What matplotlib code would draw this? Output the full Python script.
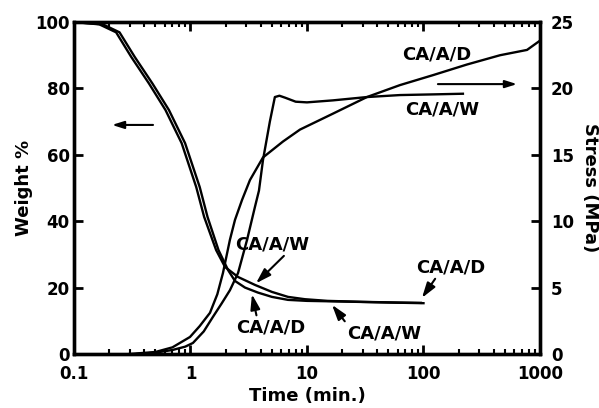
import numpy as np
import matplotlib
matplotlib.use("Agg")
import matplotlib.pyplot as plt

plt.rcParams["font.family"] = ["DejaVu Sans"]
plt.rcParams["font.weight"] = "bold"

# weight loss curves (Weight %, left axis)
t_wt_w = [0.1, 0.165, 0.23, 0.31, 0.44, 0.61, 0.84, 1.12, 1.31, 1.66, 1.98,
          2.56, 3.58, 5.0, 6.87, 9.6, 15, 30, 60, 95]
wt_w = [100, 99.3, 96.9, 89.5, 81.5, 73.5, 63.5, 50.3, 41.3, 31.3, 26.2,
        23.2, 20.8, 18.7, 17.2, 16.5, 16.0, 15.7, 15.5, 15.4]

t_wt_d = [0.1, 0.177, 0.246, 0.332, 0.471, 0.653, 0.899, 1.2, 1.4, 1.74, 2.1,
          2.41, 2.94, 3.79, 5.0, 6.87, 10, 20, 50, 100]
wt_d = [100, 99.3, 96.9, 89.5, 81.5, 73.5, 63.5, 50.3, 41.3, 31.3, 25.3,
        22.0, 20.0, 18.5, 17.2, 16.3, 16.0, 15.8, 15.5, 15.3]

# stress build-up curves (MPa, right axis)
t_st_w = [0.35, 0.5, 0.7, 0.9, 1.05, 1.3, 1.56, 1.85, 2.18, 2.56, 3.06, 3.58,
          3.87, 4.19, 4.8, 5.3, 5.8, 6.5, 8.0, 10, 16.7, 32.7, 62.8, 120, 218]
st_w = [0.0, 0.1, 0.3, 0.55, 0.83, 1.7, 2.8, 3.8, 4.8, 6.1, 8.6, 11.1,
        12.3, 14.6, 17.5, 19.35, 19.45, 19.3, 19.0, 18.95, 19.1, 19.35, 19.5,
        19.55, 19.6]

t_st_d = [0.3, 0.5, 0.7, 0.99, 1.2, 1.47, 1.7, 1.9, 2.18, 2.41, 2.77, 3.24,
          4.19, 6.22, 8.71, 16.7, 32.7, 62.8, 120.6, 236, 454, 774, 1000]
st_d = [0.0, 0.15, 0.5, 1.28, 2.1, 3.1, 4.5, 6.1, 8.6, 10.1, 11.6, 13.1,
        14.8, 16.0, 16.9, 18.1, 19.35, 20.25, 21.0, 21.8, 22.5, 22.9, 23.6]

x_ticks = [0.1, 1, 10, 100, 1000]
x_labels = ["0.1", "1", "10", "100", "1000"]
wt_ticks = [0, 20, 40, 60, 80, 100]
st_ticks = [0, 5, 10, 15, 20, 25]

fig = plt.figure(figsize=(5.99, 4.08), dpi=100)
ax = fig.add_axes([0.1235, 0.1324, 0.778, 0.8136])
ax2 = ax.twinx()

lw = 1.7
ax.plot(t_wt_w, wt_w, color="black", lw=lw)
ax.plot(t_wt_d, wt_d, color="black", lw=lw)
ax2.plot(t_st_w, st_w, color="black", lw=lw)
ax2.plot(t_st_d, st_d, color="black", lw=lw)

ax.set_xscale("log")
ax.set_xlim(0.1, 1000)
ax.set_ylim(0, 100)
ax2.set_ylim(0, 25)
ax.set_xticks(x_ticks)
ax.set_xticklabels(x_labels)
ax.set_yticks(wt_ticks)
ax2.set_yticks(st_ticks)

for a in (ax, ax2):
    for sp in a.spines.values():
        sp.set_linewidth(2.4)

ax.tick_params(axis="x", which="both", direction="in", top=True,
               labelsize=12, pad=8)
ax.tick_params(axis="x", which="major", length=6.5, width=2)
ax.tick_params(axis="x", which="minor", length=3.5, width=1.5)
ax.tick_params(axis="y", direction="in", length=6.5, width=2,
               labelsize=12, pad=3, right=False)
ax2.tick_params(axis="y", direction="in", length=6.5, width=2,
                labelsize=12, pad=8)

ax.set_xlabel("Time (min.)", fontsize=13, fontweight="bold", labelpad=3)
ax.set_ylabel("Weight %", fontsize=13, fontweight="bold", labelpad=2)
ax2.set_ylabel("Stress (MPa)", fontsize=13, fontweight="bold",
               rotation=270, labelpad=18)

arrow = dict(arrowstyle="-|>,head_length=0.7,head_width=0.22",
             color="black", lw=1.5, shrinkA=0, shrinkB=0)
fs = 13

# axis pointers
ax.annotate("", xy=(0.212, 69), xytext=(0.477, 69), arrowprops=arrow)
ax.annotate("", xy=(635, 81.3), xytext=(133, 81.3), arrowprops=arrow)

# curve labels
ax.text(130, 90.1, "CA/A/D", fontsize=fs, fontweight="bold",
        ha="center", va="center")
ax.text(144, 73.5, "CA/A/W", fontsize=fs, fontweight="bold",
        ha="center", va="center")
ax.annotate("CA/A/W", xy=(3.65, 21.3), xytext=(5.0, 33.1),
            fontsize=fs, fontweight="bold", ha="center", va="center",
            arrowprops=dict(arrow, relpos=(0.7, 0.0)))
ax.annotate("CA/A/D", xy=(3.37, 18.0), xytext=(4.9, 8.1),
            fontsize=fs, fontweight="bold", ha="center", va="center",
            arrowprops=dict(arrow, relpos=(0.3, 1.0)))
ax.annotate("CA/A/W", xy=(16.4, 14.8), xytext=(45.8, 6.3),
            fontsize=fs, fontweight="bold", ha="center", va="center",
            arrowprops=dict(arrow, relpos=(0.0, 1.0)))
ax.annotate("CA/A/D", xy=(97, 16.9), xytext=(172, 26.2),
            fontsize=fs, fontweight="bold", ha="center", va="center",
            arrowprops=dict(arrow, relpos=(0.3, 0.0)))

fig.savefig("out.png", dpi=100)
